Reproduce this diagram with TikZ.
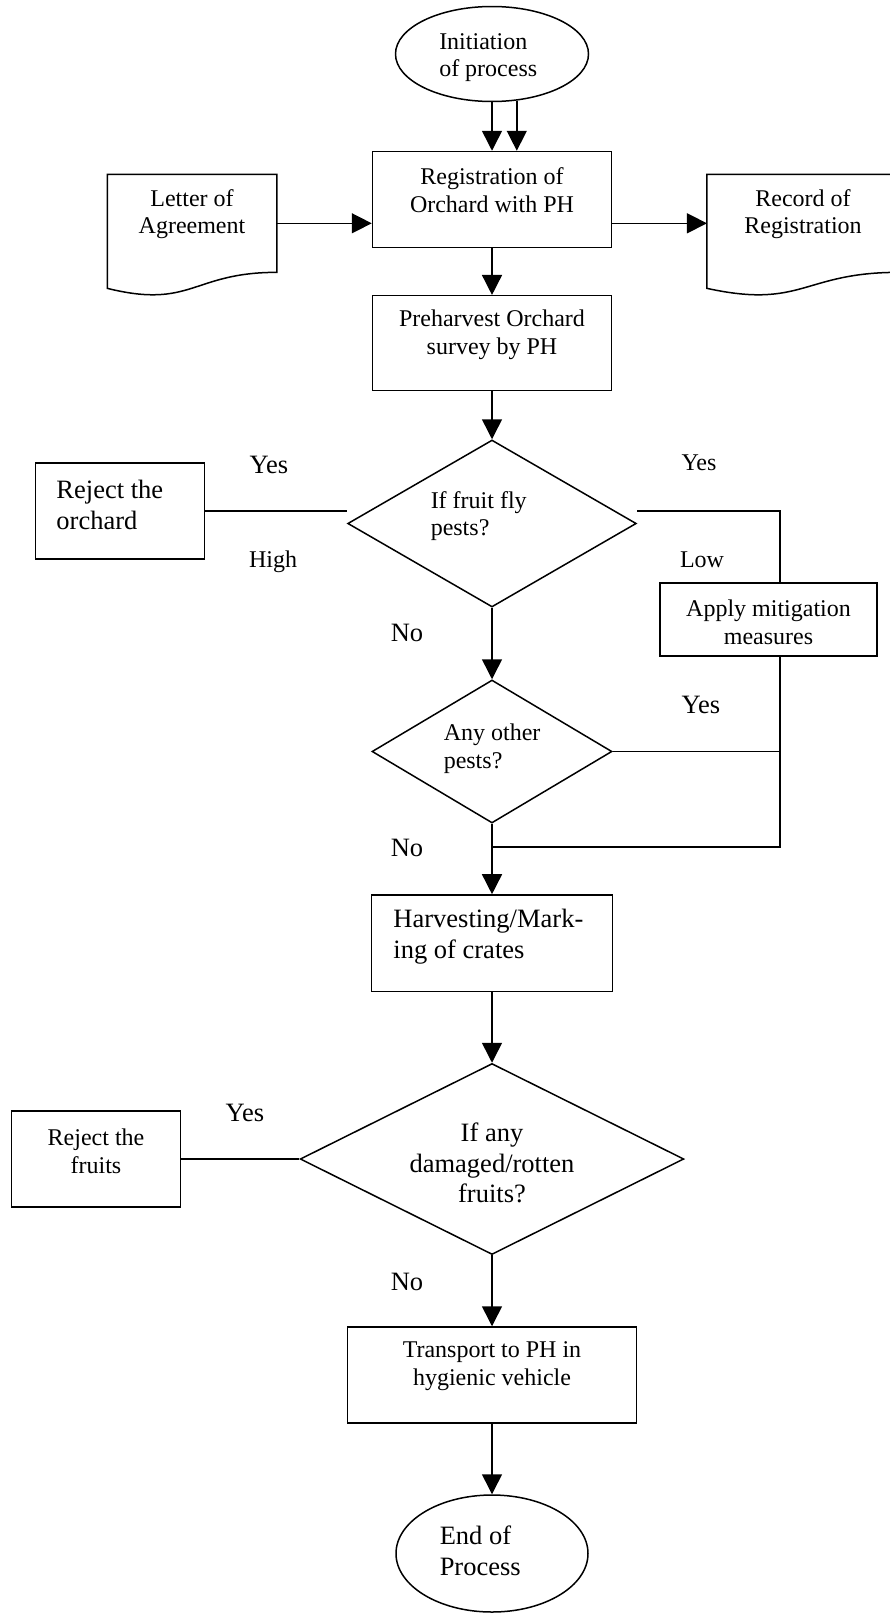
\documentclass[tikz,border=0pt]{standalone}
\usepackage{fontspec}
\setmainfont{Liberation Serif}
\usetikzlibrary{shapes.geometric,arrows.meta,calc}

\tikzset{
  proc/.style={draw,rectangle,inner sep=0pt},
  docbox/.style={rectangle,inner sep=0pt},
  term/.style={draw,ellipse,inner sep=0pt},
  decision/.style={draw,diamond,inner sep=0pt},
  txt/.style={inner sep=0pt,align=center,font=\fontsize{24}{27.6}\selectfont},
  bigtxt/.style={inner sep=0pt,align=left,font=\fontsize{26.5}{30.5}\selectfont}
}

\begin{document}
\begin{tikzpicture}[x=1pt,y=-1pt,line width=1.5pt,
  >={Triangle[length=20pt,width=20pt]}]
\useasboundingbox (0,0) rectangle (890,1614);

\node[term,minimum width=193pt,minimum height=95pt] (start) at (492,54) {};
\node[proc,minimum width=239pt,minimum height=96pt] (reg) at (492,199.5) {};
\node[docbox,minimum width=168pt,minimum height=96.6pt] (letter) at (192,223.3) {};
\node[docbox,minimum width=190pt,minimum height=96.6pt] (record) at (802.7,223.3) {};
\node[proc,minimum width=239pt,minimum height=95pt] (pre) at (492,343.2) {};
\node[decision,minimum width=288.6pt,minimum height=167pt] (fly) at (492,523.5) {};
\node[proc,minimum width=169.3pt,minimum height=96pt] (rejorch) at (119.9,511) {};
\node[proc,minimum width=217pt,minimum height=72.7pt] (mitig) at (768.5,619.4) {};
\node[decision,minimum width=240pt,minimum height=143pt] (other) at (492,751.5) {};
\node[proc,minimum width=240.6pt,minimum height=96.7pt] (harv) at (492,943.3) {};
\node[decision,minimum width=383.7pt,minimum height=191pt] (rot) at (492,1159) {};
\node[proc,minimum width=169.3pt,minimum height=96pt] (rejfruit) at (96,1159) {};
\node[proc,minimum width=288.7pt,minimum height=96pt] (trans) at (492,1375) {};
\node[term,minimum width=192pt,minimum height=117pt] (end) at (492,1553.5) {};
\coordinate (bus) at (780,511);
\coordinate (join) at (492,847);

% document outlines with wavy bottom
\foreach \d in {letter,record}
  \draw (\d.north west) -- (\d.north east) -- (\d.south east)
    .. controls (\d.south) and ($(\d.south)+(0,37)$) .. ($(\d.south west)+(0,16)$) -- cycle;

% texts
\node[txt,align=left,anchor=west] (startt) at (438.5,57.5) {Initiation\\of process};
\node[txt] (regt) at (492,190) {Registration of\\Orchard with PH};
\node[txt] (lettert) at (192,214) {Letter of\\Agreement};
\node[txt] (recordt) at (803,214) {Record of\\Registration};
\node[txt] (pret) at (492,335) {Preharvest Orchard\\survey by PH};
\node[txt,align=left,anchor=west] (flyt) at (430,516) {If fruit fly\\pests?};
\node[bigtxt,anchor=west] (rejorcht) at (55.7,505) {Reject the\\orchard};
\node[txt] (mitigt) at (768.5,622) {Apply mitigation\\measures};
\node[txt,align=left,anchor=west] (othert) at (443,749) {Any other\\pests?};
\node[bigtxt,anchor=west] (harvt) at (392.7,936.7) {Harvesting/Mark-\\ing of crates};
\node[bigtxt,align=center] (rott) at (492,1163.3) {If any\\damaged/rotten\\fruits?};
\node[txt] (rejfruitt) at (96,1151) {Reject the\\fruits};
\node[txt] (transt) at (492,1366) {Transport to PH in\\hygienic vehicle};
\node[bigtxt,anchor=west] (endt) at (439,1551) {End of\\Process};

% branch labels
\node[bigtxt] (yes1) at (269,465) {Yes};
\node[txt] (high) at (273,562) {High};
\node[txt] (yes2) at (699,463) {Yes};
\node[txt] (low) at (702,560) {Low};
\node[bigtxt] (no1) at (407,633) {No};
\node[bigtxt] (yes3) at (701,705) {Yes};
\node[bigtxt] (no2) at (407,848) {No};
\node[bigtxt] (yes4) at (245,1113) {Yes};
\node[bigtxt] (no3) at (407,1282) {No};

\path[->] (start) edge (reg)
          (reg) edge (pre)
          (pre) edge (fly)
          (fly) edge (other)
          (other) edge (harv)
          (harv) edge (rot)
          (rot) edge (trans)
          (trans) edge (end);
\draw[->] (start.-62) -- (start.-62 |- reg.north);
\draw[->] (letter.east) -- (letter.east -| reg.west);
\draw[->] (reg.east |- record.west) -- (record.west);
\draw (rejorch.east) -- (rejorch.east -| fly.west);
\draw (fly.east |- bus) -- (bus) -- (bus |- mitig.north);
\draw (other.east) -- (other.east -| bus);
\draw (bus |- mitig.south) |- (join);
\draw (rejfruit.east) -- (rot.west);
\end{tikzpicture}
\end{document}
